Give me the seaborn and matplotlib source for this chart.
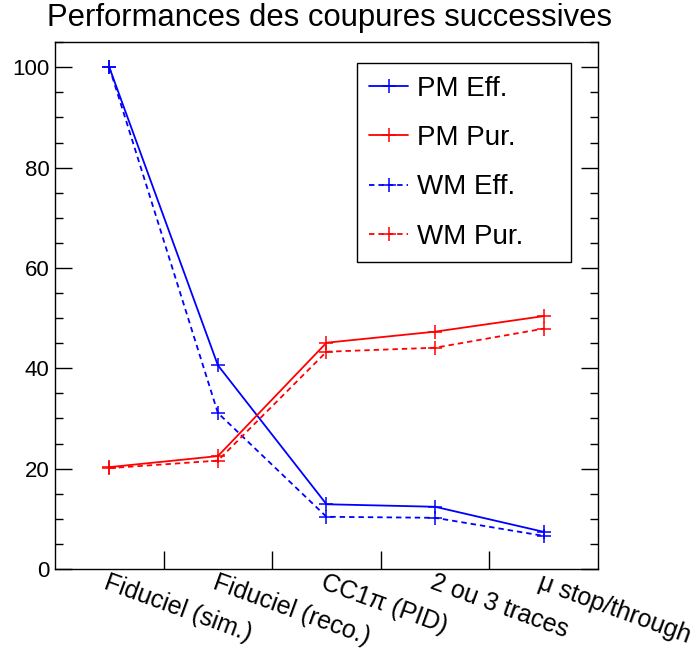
import pandas as pd
import matplotlib
matplotlib.use("Agg")
import matplotlib.pyplot as plt
import seaborn as sns
from matplotlib.ticker import MultipleLocator

# values
cuts = ["Fiduciel (sim.)", "Fiduciel (reco.)", "CC1π (PID)",
        "2 ou 3 traces", "μ stop/through"]
pm_eff = [100.0, 40.6, 12.9, 12.4, 7.4]
pm_pur = [20.3, 22.5, 45.1, 47.3, 50.4]
wm_eff = [100.0, 31.1, 10.4, 10.2, 6.6]
wm_pur = [20.1, 21.6, 43.3, 44.1, 47.9]

series = {"PM Eff.": pm_eff, "PM Pur.": pm_pur,
          "WM Eff.": wm_eff, "WM Pur.": wm_pur}
rows = []
for name, vals in series.items():
    for i, v in enumerate(vals):
        rows.append({"cut": i, "value": v, "serie": name})
df = pd.DataFrame(rows)

sns.set_style("ticks")
plt.rcParams["font.family"] = ["Liberation Sans", "DejaVu Sans"]
plt.rcParams["text.color"] = "black"
plt.rcParams["xtick.color"] = "black"
plt.rcParams["ytick.color"] = "black"
plt.rcParams["xtick.labelcolor"] = "black"
plt.rcParams["ytick.labelcolor"] = "black"

fig = plt.figure(figsize=(6.98, 6.49), dpi=100)
ax = fig.add_axes([0.0788, 0.1233, 0.7779, 0.8117])

palette = {"PM Eff.": "#0000ff", "PM Pur.": "#ff0000",
           "WM Eff.": "#0000ff", "WM Pur.": "#ff0000"}
dashes = {"PM Eff.": "", "PM Pur.": "", "WM Eff.": (3, 2.2), "WM Pur.": (3, 2.2)}
for name in series:
    sub = df[df["serie"] == name]
    sns.lineplot(data=sub, x="cut", y="value", color=palette[name],
                 dashes=False, marker="+", markersize=9.5,
                 markeredgewidth=1.1, markeredgecolor=palette[name],
                 linewidth=1.3, label=name, ax=ax)
    line = ax.lines[-1]
    if dashes[name]:
        line.set_dashes(dashes[name])

ax.set_xlim(-0.5, 4.5)
ax.set_ylim(0, 105)
ax.set_xlabel("")
ax.set_ylabel("")

# bin edges as major ticks, labels at bin centres
ax.set_xticks([0.5, 1.5, 2.5, 3.5])
ax.set_xticklabels([])
ax.set_xticks(range(len(cuts)), minor=True)
ax.set_xticklabels(cuts, minor=True, rotation=-20, ha="left", va="top",
                   rotation_mode="anchor", fontsize=18)
ax.tick_params(axis="x", which="major", direction="in", length=13, width=1,
               top=False, bottom=True)
ax.tick_params(axis="x", which="minor", length=0, pad=1)

ax.yaxis.set_major_locator(MultipleLocator(20))
ax.yaxis.set_minor_locator(MultipleLocator(5))
ax.tick_params(axis="y", which="major", direction="in", length=12, width=1,
               left=True, right=True, labelsize=16, pad=4)
ax.tick_params(axis="y", which="minor", direction="in", length=6, width=1,
               left=True, right=True)

for s in ax.spines.values():
    s.set_color("black")
    s.set_linewidth(1)

ax.set_title("Performances des coupures successives", fontsize=22.3,
             loc="left", x=-0.015, pad=12)

handles, labels = ax.get_legend_handles_labels()
leg = ax.legend(handles, labels, loc="upper left",
                bbox_to_anchor=(0.556, 0.0, 0.394, 0.96),
                mode="expand", fontsize=20, frameon=True, fancybox=False,
                edgecolor="black", framealpha=1, labelspacing=0.84,
                handlelength=1.4, handletextpad=0.32, borderpad=0.45,
                borderaxespad=0, numpoints=1)
leg.get_frame().set_linewidth(1)
for h in leg.legend_handles:
    h.set_markeredgecolor(h.get_color())

fig.savefig("out.png", dpi=100)
